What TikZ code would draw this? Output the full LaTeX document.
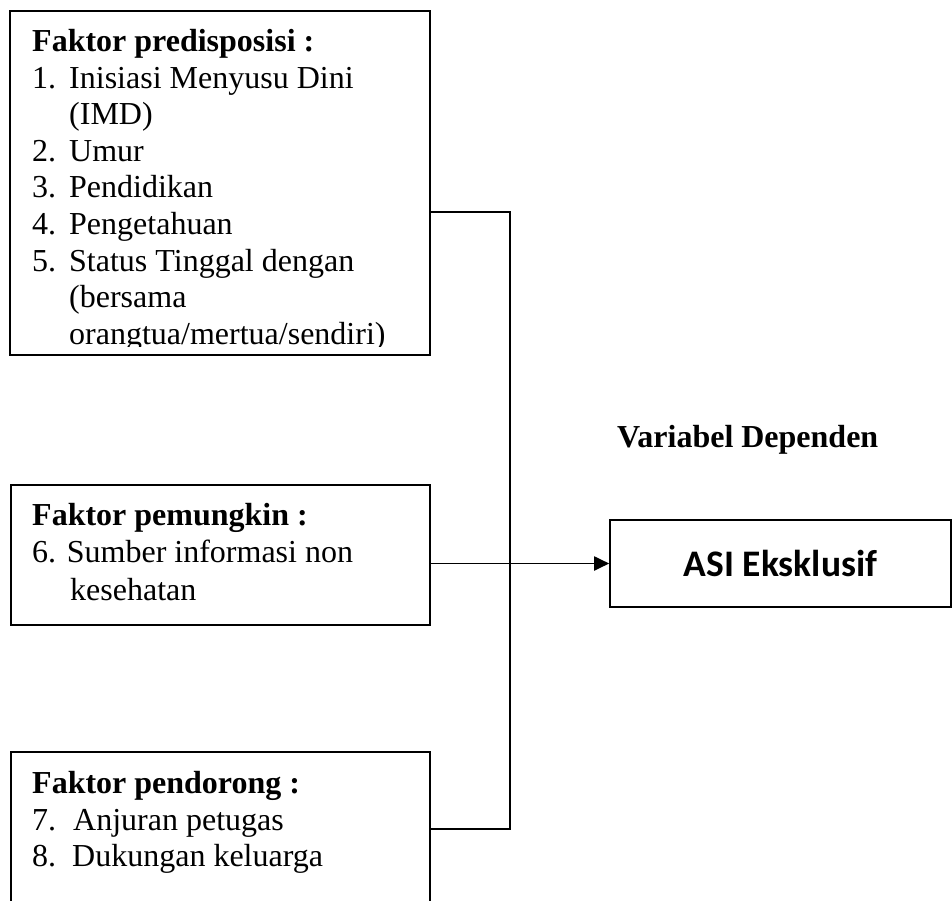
\documentclass[tikz,border=0pt]{standalone}
\usepackage{fontspec}
\setmainfont{Liberation Serif}
\newfontfamily\asifont{Carlito}
\usetikzlibrary{arrows.meta}
\begin{document}
\begin{tikzpicture}[x=1pt,y=-1pt,
  boxnode/.style={draw, line width=1.6pt, inner sep=0pt},
  txt/.style={anchor=base west, inner sep=0pt, font=\fontsize{32}{36}\selectfont},
  btxt/.style={txt, font=\fontsize{32}{36}\selectfont\bfseries},
  conn/.style={line width=1.6pt}]
\useasboundingbox (0,0) rectangle (952,901);
\clip (0,0) rectangle (952,901);
% boxes
\node[boxnode, minimum width=420pt, minimum height=344pt] (box1) at (220,183) {};
\node[boxnode, minimum width=419pt, minimum height=140pt] (box2) at (220.5,555) {};
\node[boxnode, minimum width=419pt, minimum height=180pt] (box3) at (220.5,842) {};
\node[boxnode, minimum width=341pt, minimum height=87pt, font=\asifont\bfseries\fontsize{37.5}{42}\selectfont] (asi) at (780.5,563.5) {ASI Eksklusif};
% box 1 text
\begin{scope}
\clip (11,12) rectangle (429,346);
\node[btxt] (h1) at (32,52) {Faktor predisposisi :};
\node[txt] (n1) at (32,88.5) {1.};
\node[txt] (l1) at (69,88.5) {Inisiasi Menyusu Dini};
\node[txt] (l1b) at (69,125) {(IMD)};
\node[txt] (n2) at (32,161.5) {2.};
\node[txt] (l2) at (69,161.5) {Umur};
\node[txt] (n3) at (32,198) {3.};
\node[txt] (l3) at (69,198) {Pendidikan};
\node[txt] (n4) at (32,234.5) {4.};
\node[txt] (l4) at (69,234.5) {Pengetahuan};
\node[txt] (n5) at (32,271) {5.};
\node[txt] (l5) at (69,271) {Status Tinggal dengan};
\node[txt] (l5b) at (69,307.5) {(bersama};
\node[txt] (l5c) at (69,344) {orangtua/mertua/sendiri)};
\end{scope}
% box 2 text
\node[btxt] (h2) at (32,525) {Faktor pemungkin :};
\node[txt] (l6) at (32,562) {6. Sumber informasi non};
\node[txt] (l6b) at (70,600) {kesehatan};
% box 3 text
\node[btxt] (h3) at (32,793) {Faktor pendorong :};
\node[txt] (n7) at (32,830) {7.};
\node[txt] (l7) at (73,830) {Anjuran petugas};
\node[txt] (n8) at (32,866) {8.};
\node[txt] (l8) at (72,866) {Dukungan keluarga};
% label
\node[btxt] (vd) at (617,447) {Variabel Dependen};
% connectors
\coordinate (j1) at (510,212);
\coordinate (j3) at (510,829);
\draw[conn] (j1 -| box1.east) -- (j1) -- (j3) -- (j3 -| box3.east);
\draw[conn, line width=1.9pt, -{Triangle[length=15pt,width=14pt]}] (asi.west -| box2.east) -- (asi.west);
\end{tikzpicture}
\end{document}
